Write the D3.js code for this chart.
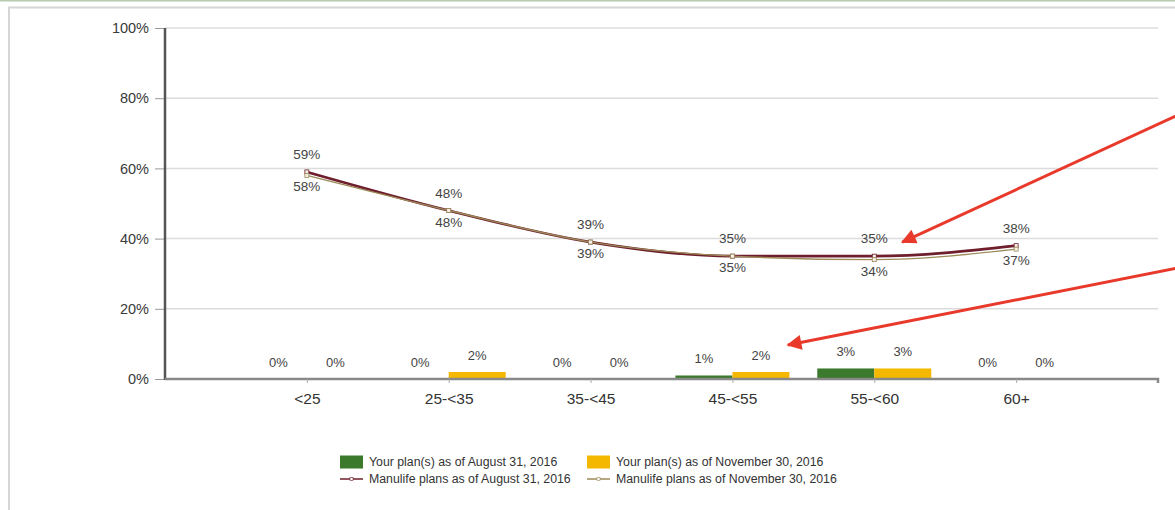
<!DOCTYPE html>
<html><head><meta charset="utf-8">
<script src="https://cdn.jsdelivr.net/npm/d3@7"></script>
<style>
html,body{margin:0;padding:0;background:#fff;}
svg{display:block;font-family:"Liberation Sans",Arial,sans-serif;}
</style></head>
<body><svg id="c" width="1175" height="510"></svg>
<script>
const categories = ["<25","25-<35","35-<45","45-<55","55-<60","60+"];
const yourAug = [0,0,0,1,3,0];
const yourNov = [0,2,0,2,3,0];
const manuAug = [59,48,39,35,35,38];
const manuNov = [58,48,39,35,34,37];
const yTicks = [0,20,40,60,80,100];
const legendLabels = ["Your plan(s) as of August 31, 2016","Your plan(s) as of November 30, 2016","Manulife plans as of August 31, 2016","Manulife plans as of November 30, 2016"];

const svg = d3.select("#c");
const W=1175,H=510;
const colGreen="#3b7a2c", colYellow="#f5b800", colAug="#6e1e2c", colNov="#9c8a58";

// frame
svg.append("line").attr("x1",0).attr("x2",W).attr("y1",0.5).attr("y2",0.5).attr("stroke","#b7cbb0").attr("stroke-width",2);
svg.append("line").attr("x1",8).attr("x2",W).attr("y1",7.5).attr("y2",7.5).attr("stroke","#d6d6d6").attr("stroke-width",2);
svg.append("line").attr("x1",9).attr("x2",9).attr("y1",7).attr("y2",H).attr("stroke","#d6d6d6").attr("stroke-width",2);

const x0=165,x1=1158,yTop=28,yBot=379;
const x = d3.scalePoint().domain(categories).range([x0,x1]).padding(1);
const y = d3.scaleLinear().domain([0,100]).range([yBot,yTop]);
const bw = 57;

// grid
svg.append("g").selectAll("line").data(yTicks.filter(d=>d>0)).join("line")
 .attr("x1",x0).attr("x2",x1).attr("y1",d=>y(d)).attr("y2",d=>y(d))
 .attr("stroke","#dcdcdc").attr("stroke-width",1.5);

// y axis
const ya = svg.append("g").attr("transform",`translate(${x0},0)`)
 .call(d3.axisLeft(y).tickValues(yTicks).tickFormat(d=>d+"%").tickSize(10).tickPadding(6));
ya.select(".domain").remove();
ya.selectAll(".tick line").attr("stroke","#999").attr("stroke-width",1);
ya.selectAll(".tick text").attr("font-size",14.5).attr("fill","#3a3a3a").attr("font-family","Liberation Sans, Arial, sans-serif");
svg.append("line").attr("x1",x0).attr("x2",x0).attr("y1",yTop).attr("y2",yBot+1).attr("stroke","#555").attr("stroke-width",2.5);

// bars
const bars = svg.append("g");
categories.forEach((c,i)=>{
  bars.append("rect").attr("x",x(c)-bw).attr("width",bw).attr("y",y(yourAug[i])).attr("height",yBot-y(yourAug[i])).attr("fill",colGreen);
  bars.append("rect").attr("x",x(c)).attr("width",bw).attr("y",y(yourNov[i])).attr("height",yBot-y(yourNov[i])).attr("fill",colYellow);
});

// x axis
const xa = svg.append("g").attr("transform",`translate(0,${yBot})`)
 .call(d3.axisBottom(x).tickSize(4).tickPadding(10));
xa.select(".domain").attr("stroke","#888").attr("stroke-width",2.5).attr("d",`M${x0},0H${x1}V4`);
xa.selectAll(".tick line").attr("stroke","#aaa");
xa.selectAll(".tick text").attr("font-size",15.5).attr("fill","#333").attr("font-family","Liberation Sans, Arial, sans-serif");

// bar labels
const bl = svg.append("g").attr("font-size",13).attr("fill","#444").attr("text-anchor","middle");
categories.forEach((c,i)=>{
  bl.append("text").attr("x",x(c)-bw/2).attr("y",y(yourAug[i])-12).text(yourAug[i]+"%");
  bl.append("text").attr("x",x(c)+bw/2).attr("y",y(yourNov[i])-12).text(yourNov[i]+"%");
});

// lines
const lineGen = d3.line().x((d,i)=>x(categories[i])).y(d=>y(d)).curve(d3.curveMonotoneX);
svg.append("path").datum(manuAug).attr("d",lineGen).attr("fill","none").attr("stroke",colAug).attr("stroke-width",2.6);
svg.append("path").datum(manuNov).attr("d",lineGen).attr("fill","none").attr("stroke",colNov).attr("stroke-width",1.4);
[[manuAug,colAug],[manuNov,colNov]].forEach(([arr,col])=>{
  svg.append("g").selectAll("rect").data(arr).join("rect")
   .attr("x",(d,i)=>x(categories[i])-2).attr("y",d=>y(d)-2).attr("width",4).attr("height",4)
   .attr("fill","#f4efe6").attr("stroke",col).attr("stroke-width",0.8);
});
const ll = svg.append("g").attr("font-size",13.5).attr("fill","#444").attr("text-anchor","middle");
categories.forEach((c,i)=>{
  ll.append("text").attr("x",x(c)).attr("y",y(manuAug[i])-13).text(manuAug[i]+"%");
  ll.append("text").attr("x",x(c)).attr("y",y(manuNov[i])+16).text(manuNov[i]+"%");
});

// legend
const lg = svg.append("g").attr("font-size",12.3).attr("fill","#333");
const lx=[340,587], ly=[462,479];
lg.append("rect").attr("x",lx[0]).attr("y",ly[0]-6.5).attr("width",23).attr("height",13).attr("fill",colGreen);
lg.append("rect").attr("x",lx[1]).attr("y",ly[0]-6.5).attr("width",23).attr("height",13).attr("fill",colYellow);
[[lx[0],colAug],[lx[1],colNov]].forEach(([xx,col])=>{
  lg.append("line").attr("x1",xx).attr("x2",xx+23).attr("y1",ly[1]).attr("y2",ly[1]).attr("stroke",col).attr("stroke-width",1.5);
  lg.append("rect").attr("x",xx+10).attr("y",ly[1]-1.5).attr("width",3).attr("height",3).attr("fill","#fff").attr("stroke",col).attr("stroke-width",0.6);
});
legendLabels.forEach((t,i)=>{
  lg.append("text").attr("x",lx[i%2]+29).attr("y",ly[Math.floor(i/2)]).attr("dy","0.35em").text(t);
});

// annotation arrows
const defs = svg.append("defs");
defs.append("marker").attr("id","ah").attr("viewBox","0 0 10 10").attr("refX",9).attr("refY",5)
 .attr("markerWidth",6).attr("markerHeight",5).attr("markerUnits","strokeWidth").attr("orient","auto")
 .append("path").attr("d","M0,0L10,5L0,10z").attr("fill","#e8392b");
const arrows = [
  {x1:W+3, y1:115, x2:x(categories[4])+28, y2:y(manuAug[4])-14},
  {x1:W+3, y1:268, x2:x(categories[3])+bw/2+27, y2:y(yourNov[3])-27}
];
svg.append("g").selectAll("line").data(arrows).join("line")
 .attr("x1",d=>d.x1).attr("y1",d=>d.y1).attr("x2",d=>d.x2).attr("y2",d=>d.y2)
 .attr("stroke","#e8392b").attr("stroke-width",3).attr("marker-end","url(#ah)");
</script></body></html>
